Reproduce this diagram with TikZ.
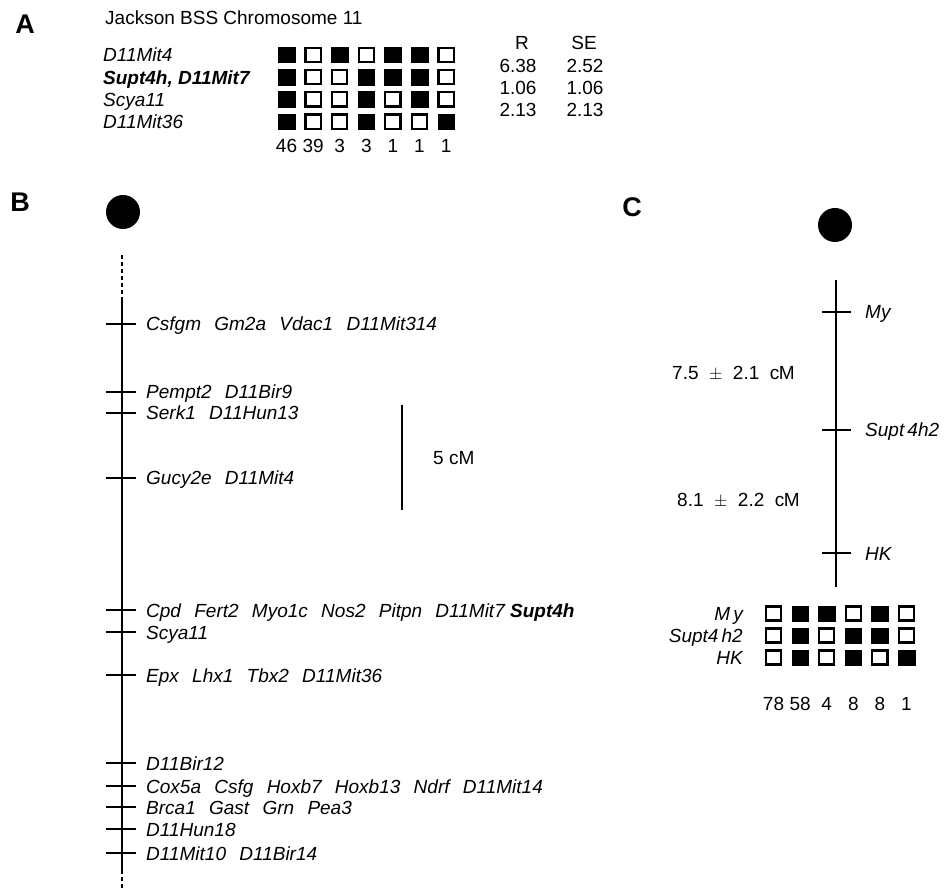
\documentclass[tikz,border=0pt]{standalone}
\usepackage{fontspec}
\setmainfont{Liberation Sans}
\newcommand\wsp{\hspace{0.7em}}
\newcommand\dsp{\hspace{0.55em}}
\begin{document}
\begin{tikzpicture}[x=1pt,y=-1pt,
  lbl/.style={font=\fontsize{19}{21}\selectfont\itshape, anchor=base west, inner sep=0pt},
  rlbl/.style={font=\fontsize{19}{21}\selectfont\itshape, anchor=base east, inner sep=0pt},
  num/.style={font=\fontsize{19}{21}\selectfont, anchor=base, inner sep=0pt},
  txt/.style={font=\fontsize{19}{21}\selectfont, anchor=base west, inner sep=0pt},
  panel/.style={font=\fontsize{27}{29}\selectfont\bfseries, anchor=base, inner sep=0pt},
  b1/.style={fill=black, draw=black, line width=0.5pt, minimum width=16.5pt, minimum height=15.5pt, inner sep=0pt},
  b0/.style={fill=white, draw=black, line width=2.3pt, minimum width=15.2pt, minimum height=14.2pt, inner sep=0pt},
  chrom/.style={line width=2pt},
  chromdash/.style={line width=2pt, dash pattern=on 4pt off 3pt},
  tickmark/.style={line width=1.6pt},
  cen/.style={circle, fill=black, minimum size=34pt, inner sep=0pt}
]
\useasboundingbox (0,0) rectangle (951,890);

% ---------------- Panel A ----------------
\node[panel] (pA) at (25,33.5) {A};
\node[txt] (titleA) at (105,25) {Jackson BSS Chromosome 11};

\node[lbl] (rA1) at (103,62) {D11Mit4};
\node[lbl] (rA2) at (103,84.2) {\bfseries Supt4h, D11Mit7};
\node[lbl] (rA3) at (103,106.4) {Scya11};
\node[lbl] (rA4) at (103,128.6) {D11Mit36};

\foreach \r/\pat in {1/{1,0,1,0,1,1,0},2/{1,0,0,1,1,1,0},3/{1,0,0,1,0,1,0},4/{1,0,0,1,0,0,1}}{
  \foreach \v [count=\c] in \pat {
    \node[b\v] (a\r\c) at ({286.5+(\c-1)*26.6},{55+(\r-1)*22.2}) {};
  }
}
\foreach \n [count=\c] in {46,39,3,3,1,1,1}{
  \node[num] (nA\c) at ({286.5+(\c-1)*26.6},153) {\n};
}

\node[num] (hR) at (522,50) {R};
\node[num] (hSE) at (584,50) {SE};
\node[num] (r1) at (518,73) {6.38};
\node[num] (s1) at (585,73) {2.52};
\node[num] (r2) at (518,95) {1.06};
\node[num] (s2) at (585,95) {1.06};
\node[num] (r3) at (518,117) {2.13};
\node[num] (s3) at (585,117) {2.13};

% ---------------- Panel B ----------------
\node[panel] (pB) at (20,211.5) {B};
\node[cen] (cenB) at (123,212) {};
\coordinate (bTop) at (122,255);
\coordinate (bSolidTop) at (122,300);
\coordinate (bSolidBot) at (122,870);
\coordinate (bBot) at (122,890);
\draw[chromdash] (bTop) -- (bSolidTop);
\draw[chrom] (bSolidTop) -- (bSolidBot);
\draw[chromdash] (bSolidBot) -- (bBot);

\foreach \y/\name/\t in {
  324/l1/{Csfgm\wsp Gm2a\wsp Vdac1\wsp D11Mit314},
  392/l2/{Pempt2\wsp D11Bir9},
  413/l3/{Serk1\wsp D11Hun13},
  478/l4/{Gucy2e\wsp D11Mit4},
  610/l5/{Cpd\wsp Fert2\wsp Myo1c\wsp Nos2\wsp Pitpn\wsp D11Mit7 \textbf{Supt4h}},
  632/l6/{Scya11},
  675/l7/{Epx\wsp Lhx1\wsp Tbx2\wsp D11Mit36},
  763/l8/{D11Bir12},
  786/l9/{Cox5a\wsp Csfg\wsp Hoxb7\wsp Hoxb13\wsp Ndrf\wsp D11Mit14},
  807/l10/{Brca1\wsp Gast\wsp Grn\wsp Pea3},
  829/l11/{D11Hun18},
  853/l12/{D11Mit10\wsp D11Bir14}}{
  \coordinate (\name L) at (106,\y);
  \coordinate (\name R) at (136,\y);
  \draw[tickmark] (\name L) -- (\name R);
  \node[lbl] (\name) at (146,\y+7) {\t};
}

\coordinate (scTop) at (402,405);
\coordinate (scBot) at (402,510);
\draw[chrom] (scTop) -- (scBot);
\node[txt] (scale) at (433,465) {5 cM};

% ---------------- Panel C ----------------
\node[panel] (pC) at (632,216.5) {C};
\node[cen] (cenC) at (835,225) {};
\coordinate (cTop) at (836,280);
\coordinate (cBot) at (836,587);
\draw[chrom] (cTop) -- (cBot);

\foreach \y/\name/\t in {312/m1/{My}, 430/m2/{Supt\,4h2}, 553/m3/{HK}}{
  \coordinate (\name L) at (822,\y);
  \coordinate (\name R) at (851,\y);
  \draw[tickmark] (\name L) -- (\name R);
  \node[lbl] (\name) at (865,\y+7) {\t};
}
\node[txt] (d1) at (672,380) {7.5\dsp$\pm$\dsp 2.1\dsp c\kern-0.5ptM};
\node[txt] (d2) at (677,507) {8.1\dsp$\pm$\dsp 2.2\dsp c\kern-0.5ptM};

\node[rlbl] (gC1) at (743,620) {M\,y};
\node[rlbl] (gC2) at (743,642.5) {Supt4\,h2};
\node[rlbl] (gC3) at (743,664.5) {HK};

\foreach \r/\pat in {1/{0,1,1,0,1,0},2/{0,1,0,1,1,0},3/{0,1,0,1,0,1}}{
  \foreach \v [count=\c] in \pat {
    \node[b\v] (c\r\c) at ({773.5+(\c-1)*26.6},{613.5+(\r-1)*22}) {};
  }
}
\foreach \n [count=\c] in {78,58,4,8,8,1}{
  \node[num] (nC\c) at ({773.5+(\c-1)*26.6},710) {\n};
}
\end{tikzpicture}
\end{document}
